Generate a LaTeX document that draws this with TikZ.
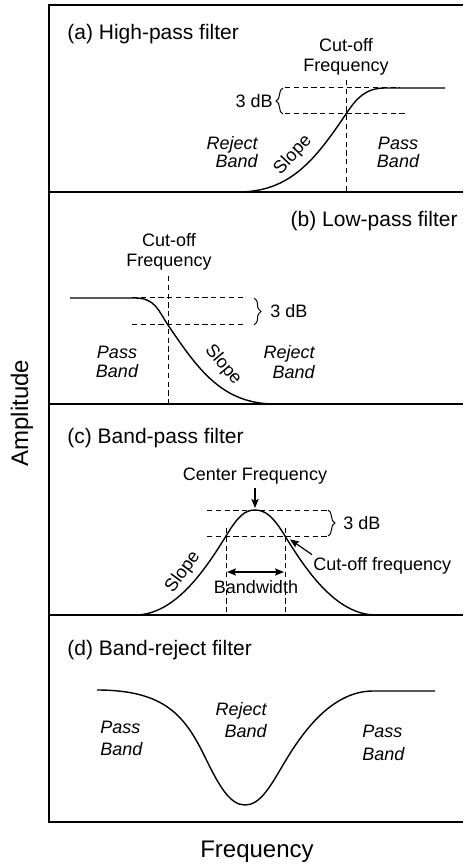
\documentclass[tikz,border=0pt]{standalone}
\usepackage{fontspec}
\setmainfont{Liberation Sans}
\usetikzlibrary{arrows.meta,decorations.pathreplacing}

\begin{document}
\begin{tikzpicture}[x=0.5pt,y=-0.5pt,
  frame/.style={line width=0.9pt},
  curve/.style={line width=0.7pt},
  guide/.style={line width=0.5pt, dash pattern=on 2.6pt off 1.8pt},
  ttl/.style={font=\fontsize{10.5}{12}\selectfont, inner sep=0pt},
  lbl/.style={font=\fontsize{9}{10}\selectfont, inner sep=0pt},
  band/.style={inner sep=0pt, font=\fontsize{9}{10}\selectfont\itshape},
  axis/.style={font=\fontsize{12}{14}\selectfont, inner sep=0pt},
  brc/.style={decorate, decoration={brace, amplitude=3.5pt}, line width=0.5pt},
  tip/.tip={Stealth[length=4.5pt,width=3.6pt,inset=0.8pt]},
  arr/.style={line width=0.6pt, -tip},
  dblarr/.style={line width=0.6pt, tip-tip},
]
\useasboundingbox (0,0) rectangle (463,865);

% outer frame and panel separators
\draw[frame] (463,5) -- (49,5) -- (49,822) -- (463,822);
\foreach \yy in {192,404,615} \draw[frame] (49,\yy) -- (463,\yy);

% axis labels
\node[axis, rotate=90] (amp) at (22,413) {Amplitude};
\node[axis, anchor=base] (freq) at (257,857) {Frequency};

% ---------- (a) high-pass ----------
\node[ttl, anchor=base west] (ta) at (67,40) {(a) High-pass filter};
\node[lbl, anchor=base] (acut1) at (346,52) {Cut-off};
\node[lbl, anchor=base] (acut2) at (346,72) {Frequency};
\draw[guide] (346,80) -- (346,192);
\draw[guide] (285,88) -- (400,88);
\draw[guide] (285,114) -- (407,114);
\draw[curve] (238,192) .. controls (290,192) and (315,160) .. (346,114)
  .. controls (356,99) and (365,88) .. (385,88) -- (445,88);
\draw[brc] (283,114) -- (283,88);
\node[lbl, anchor=east] (adb) at (273,101) {3 dB};
\node[band, anchor=base east] (arej1) at (258,150) {Reject};
\node[band, anchor=base east] (arej2) at (258,168) {Band};
\node[band, anchor=base] (apass1) at (398,150) {Pass};
\node[band, anchor=base] (apass2) at (398,168) {Band};
\node[lbl, rotate=47] (aslope) at (293,155) {Slope};

% ---------- (b) low-pass ----------
\node[ttl, anchor=base east] (tb) at (458,227) {(b) Low-pass filter};
\node[lbl, anchor=base] (bcut1) at (169,247) {Cut-off};
\node[lbl, anchor=base] (bcut2) at (169,267) {Frequency};
\draw[guide] (168,276) -- (168,404);
\draw[guide] (132,298) -- (243,298);
\draw[guide] (132,325) -- (243,325);
\draw[curve] (70,298) -- (135,298) .. controls (155,298) and (158,310) .. (168,325)
  .. controls (199,371) and (223,404) .. (275,404);
\draw[brc] (254,298) -- (254,325);
\node[lbl, anchor=west] (bdb) at (270,311) {3 dB};
\node[band, anchor=base] (bpass1) at (117,358) {Pass};
\node[band, anchor=base] (bpass2) at (117,378) {Band};
\node[band, anchor=base east] (brej1) at (315,358) {Reject};
\node[band, anchor=base east] (brej2) at (315,379) {Band};
\node[lbl, rotate=-50] (bslope) at (223,365) {Slope};

% ---------- (c) band-pass ----------
\node[ttl, anchor=base west] (tc) at (67,443) {(c) Band-pass filter};
\coordinate (peak) at (255,510);
\coordinate (cl) at (226,536);
\coordinate (cr) at (285,536);
\draw[guide] (207,510) -- (327,510);
\draw[guide] (207,536) -- (327,536);
\draw[guide] (226,528) -- (226,615);
\draw[guide] (285,528) -- (285,615);
\draw[curve] (135,615) .. controls (175,615) and (205,570) .. (cl)
  .. controls (238,516) and (245,510) .. (peak)
  .. controls (265,510) and (273,516) .. (cr)
  .. controls (306,570) and (336,615) .. (376,615);
\draw[brc] (328,510) -- (328,536);
\node[lbl, anchor=west] (cdb) at (343,523) {3 dB};
\node[lbl, anchor=base] (cfreq) at (255,480) {Center Frequency};
\draw[arr, shorten >=1pt] ([yshift=-2pt]cfreq.south) -- (peak);
\node[lbl, anchor=base west] (cutf) at (313,570) {Cut-off frequency};
\draw[arr, shorten >=3pt] ([shift={(-0.5pt,1pt)}]cutf.north west) -- (cr);
\coordinate (bwl) at (226,572);
\coordinate (bwr) at (285,572);
\draw[dblarr, shorten <=0.5pt, shorten >=0.5pt] (bwl) -- (bwr);
\node[lbl, anchor=base] (bw) at (256,593) {Bandwidth};
\node[lbl, rotate=54] (cslope) at (183,572) {Slope};

% ---------- (d) band-reject ----------
\node[ttl, anchor=base west] (td) at (67,655) {(d) Band-reject filter};
\draw[curve] (97,690) .. controls (165,690) and (185,716) .. (205,757)
  .. controls (219,786) and (230,805) .. (245,805)
  .. controls (260,805) and (270,787) .. (283,765)
  .. controls (300,736) and (330,691) .. (373,691) -- (435,691);
\node[band, anchor=base west] (dpl1) at (100,733) {Pass};
\node[band, anchor=base west] (dpl2) at (100,755) {Band};
\node[band, anchor=base east] (drej1) at (267,715) {Reject};
\node[band, anchor=base east] (drej2) at (267,737) {Band};
\node[band, anchor=base west] (dpr1) at (362,737) {Pass};
\node[band, anchor=base west] (dpr2) at (362,760) {Band};
\end{tikzpicture}
\end{document}
